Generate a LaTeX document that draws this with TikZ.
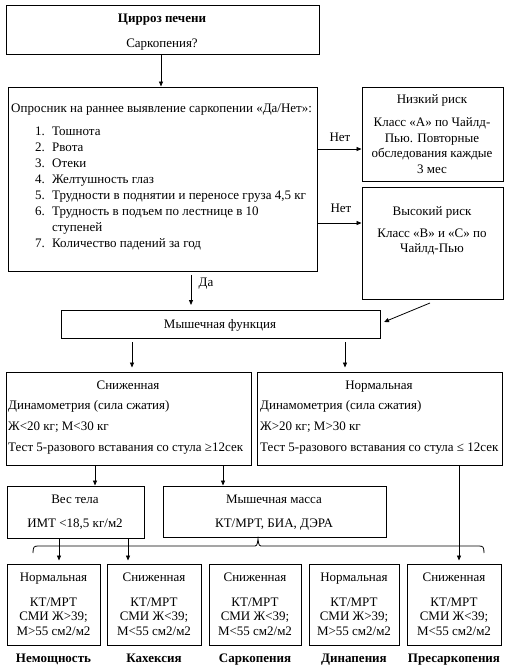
\documentclass[tikz,border=0pt]{standalone}
\usepackage{fontspec}
\setmainfont{Liberation Serif}
\usetikzlibrary{arrows.meta}
\newcommand\mkbox[5]{\node[boxst, minimum width=#4pt, minimum height=#5pt] (#1) at (#2,#3) {};}
\begin{document}
\begin{tikzpicture}[x=1pt,y=-1pt,
  boxst/.style={draw, line width=0.9pt, inner sep=0pt},
  txt/.style={inner sep=0pt, anchor=mid, yshift=-2pt, font=\fontsize{13}{15}\selectfont},
  ltxt/.style={txt, anchor=mid west},
  rtxt/.style={txt, anchor=mid east},
  btxt/.style={txt, font=\fontsize{13}{15}\selectfont\bfseries},
  arr/.style={-{Triangle[length=5pt,width=4pt]}, line width=0.8pt},
  ln/.style={line width=0.8pt}]
\useasboundingbox (0,0) rectangle (510,670);
% boxes
\mkbox{top}{162.5}{29.5}{313}{49}
\mkbox{q}{162.5}{179}{309}{184}
\mkbox{low}{432.5}{134}{141}{94}
\mkbox{high}{432.5}{243}{141}{112}
\mkbox{mf}{220.5}{324}{319}{28}
\mkbox{red}{128.5}{418.5}{245}{93}
\mkbox{norm}{379.5}{418.5}{245}{93}
\mkbox{ves}{75.5}{512}{137}{52}
\mkbox{mm}{274.5}{511.5}{223}{51}
\mkbox{b1}{53.5}{604.5}{93}{81}
\mkbox{b2}{154}{604.5}{94}{81}
\mkbox{b3}{255}{604.5}{92}{81}
\mkbox{b4}{354}{604.5}{90}{81}
\mkbox{b5}{454}{604.5}{94}{81}
% top texts
\node[btxt] (t1) at (162,18) {Цирроз печени};
\node[txt] (t2) at (162,43) {Саркопения?};
% questionnaire
\node[ltxt] (qh) at (11,108) {Опросник на раннее выявление саркопении «Да/Нет»:};
\node[rtxt] (n1) at (45,131) {1.}; \node[ltxt] (i1) at (52,131) {Тошнота};
\node[rtxt] (n2) at (45,147) {2.}; \node[ltxt] (i2) at (52,147) {Рвота};
\node[rtxt] (n3) at (45,163) {3.}; \node[ltxt] (i3) at (52,163) {Отеки};
\node[rtxt] (n4) at (45,179) {4.}; \node[ltxt] (i4) at (52,179) {Желтушность глаз};
\node[rtxt] (n5) at (45,195) {5.}; \node[ltxt] (i5) at (52,195) {Трудности в поднятии и переносе груза 4,5 кг};
\node[rtxt] (n6) at (45,211) {6.}; \node[ltxt] (i6) at (52,211) {Трудность в подъем по лестнице в 10};
\node[ltxt] (i6b) at (52,227) {ступеней};
\node[rtxt] (n7) at (45,243) {7.}; \node[ltxt] (i7) at (52,243) {Количество падений за год};
% low / high risk
\node[txt] (l1) at (432,99) {Низкий риск};
\node[txt] (l2) at (432,122) {Класс «А» по Чайлд-};
\node[txt] (l3) at (432,138) {Пью. Повторные};
\node[txt] (l4) at (432,153) {обследования каждые};
\node[txt] (l5) at (432,169) {3 мес};
\node[txt] (h1) at (432,211) {Высокий риск};
\node[txt] (h2) at (432,233) {Класс «В» и «С» по};
\node[txt] (h3) at (432,248) {Чайлд-Пью};
% labels
\node[txt] (net1) at (340,137) {Нет};
\node[txt] (net2) at (341,208) {Нет};
\node[txt] (da) at (206,282) {Да};
% muscle function
\node[txt] (mft) at (220,324) {Мышечная функция};
% reduced / normal
\node[txt] (r1) at (128,385) {Сниженная};
\node[ltxt] (r2) at (8,405) {Динамометрия (сила сжатия)};
\node[ltxt] (r3) at (8,426) {Ж<20 кг; М<30 кг};
\node[ltxt] (r4) at (8,447) {Тест 5-разового вставания со стула ≥12сек};
\node[txt] (m1) at (379,385) {Нормальная};
\node[ltxt] (m2) at (260,405) {Динамометрия (сила сжатия)};
\node[ltxt] (m3) at (260,426) {Ж>20 кг; М>30 кг};
\node[ltxt] (m4) at (260,447) {Тест 5-разового вставания со стула ≤ 12сек};
% weight / mass
\node[txt] (v1) at (75,499) {Вес тела};
\node[txt] (v2) at (75,523) {ИМТ <18,5 кг/м2};
\node[txt] (mm1) at (274,499) {Мышечная масса};
\node[txt] (mm2) at (274,523) {КТ/МРТ, БИА, ДЭРА};
% bottom boxes
\foreach \b/\cx/\hd/\sg/\lab in {b1/53.5/Нормальная/>/Немощность, b2/154/Сниженная/</Кахексия, b3/255/Сниженная/</Саркопения, b4/354/Нормальная/>/Динапения, b5/454/Сниженная/</Пресаркопения}{
  \node[txt] (\b h) at (\cx,577) {\hd};
  \node[txt] (\b k) at (\cx,602) {КТ/МРТ};
  \node[txt] (\b s) at (\cx,616) {СМИ Ж\sg39;};
  \node[txt] (\b m) at (\cx,631) {М\sg55 см2/м2};
  \node[btxt] (\b l) at (\cx,658) {\lab};
}
% connectors
\coordinate (daA) at (191,275);
\coordinate (daB) at (191,305);
\coordinate (dgA) at (430,303);
\coordinate (dgB) at (384,322);
\draw[arr] (top.south -| 161,0) -- (q.north -| 161,0);
\draw[arr] (q.east |- 0,149) -- (low.west |- 0,149);
\draw[arr] (q.east |- 0,223) -- (high.west |- 0,223);
\draw[arr] (daA) -- (daB);
\draw[arr] (dgA) -- (dgB);
\draw[arr] ([yshift=-4pt]mf.south -| 132,0) -- ([yshift=4pt]red.north -| 132,0);
\draw[arr] ([yshift=-4pt]mf.south -| 345,0) -- ([yshift=4pt]norm.north -| 345,0);
\draw[arr] (red.south -| 95,0) -- (ves.north -| 95,0);
\draw[arr] (red.south -| 223,0) -- (mm.north -| 223,0);
\draw[arr] (norm.south -| 459,0) -- ([yshift=3pt]b5.north -| 459,0);
\draw[arr] (ves.south -| 59,0) -- ([yshift=3pt]b1.north -| 59,0);
\draw[arr] (ves.south -| 128,0) -- ([yshift=3pt]b2.north -| 128,0);
% brace
\coordinate (brL) at (33,553);
\coordinate (brR) at (484,553);
\coordinate (brM) at (258,539);
\draw[ln] (brL) .. controls (33,547) and (34,546) .. (38,546) -- (253,546)
  .. controls (257,546) .. (brM) .. controls (259,546) .. (263,546) -- (479,546)
  .. controls (483,546) and (484,547) .. (brR);
\end{tikzpicture}
\end{document}
